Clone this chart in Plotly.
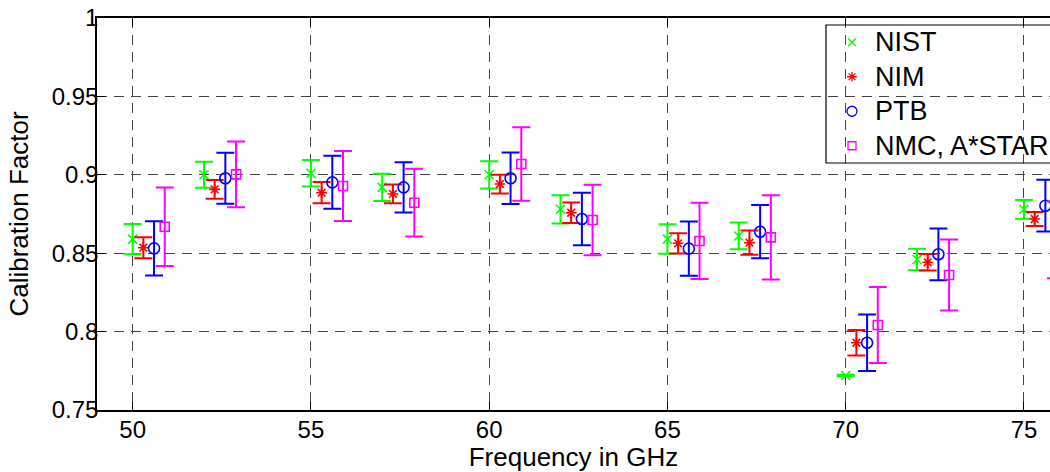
import plotly.graph_objects as go

freqs = [50, 52, 55, 57, 60, 62, 65, 67, 70, 72, 75]

nist_vals = [0.859, 0.900, 0.901, 0.892, 0.900, 0.878, 0.859, 0.861, 0.772, 0.846, 0.878]
nist_err = [0.0097, 0.0083, 0.0084, 0.0087, 0.0087, 0.009, 0.0094, 0.0085, 0.0005, 0.0069, 0.006]
nim_vals = [0.8535, 0.8907, 0.8886, 0.8878, 0.8941, 0.8758, 0.8563, 0.8567, 0.7929, 0.8442, 0.8718]
nim_err = [0.0067, 0.006, 0.0068, 0.006, 0.006, 0.0065, 0.0065, 0.0077, 0.0081, 0.0053, 0.0045]
ptb_vals = [0.8531, 0.8978, 0.8952, 0.8920, 0.8978, 0.8718, 0.8529, 0.8637, 0.7929, 0.8493, 0.8803]
ptb_err = [0.0173, 0.0163, 0.0169, 0.016, 0.0165, 0.0168, 0.0173, 0.017, 0.018, 0.0165, 0.0165]
nmc_vals = [0.8669, 0.9003, 0.8929, 0.8822, 0.9069, 0.8712, 0.8578, 0.8601, 0.8042, 0.8361, 0.8585]
nmc_err = [0.025, 0.021, 0.0223, 0.0216, 0.0235, 0.0225, 0.0243, 0.0268, 0.0243, 0.0226, 0.0245]

series_names = ["NIST", "NIM", "PTB", "NMC, A*STAR"]
x_ticks = [50, 55, 60, 65, 70, 75]
y_ticks = [0.75, 0.8, 0.85, 0.9, 0.95, 1.0]
y_tick_text = ["0.75", "0.8", "0.85", "0.9", "0.95", "1"]

# display dodge per lab (GHz)
dodge = [0.0, 0.3, 0.6, 0.9]
colors = ["#00ff00", "#ff0000", "#0000ff", "#ff00ff"]
symbols = ["x-thin-open", "asterisk-open", "circle-open", "square-open"]
sizes = [9, 9, 11, 9]

vals = [nist_vals, nim_vals, ptb_vals, nmc_vals]
errs = [nist_err, nim_err, ptb_err, nmc_err]

FONT = "Liberation Sans, Arial, Helvetica, sans-serif"
GRID = "#444444"

# plot area in figure pixels
W, H = 1050, 472
PL, PT, PB = 97, 18, 410

def px_to_paper_x(px):
    return (px - PL) / (W - PL)

def px_to_paper_y(py):
    return (PB - py) / (PB - PT)

# manual legend layout (pixels)
LEG_LEFT, LEG_TOP, LEG_BOTTOM = 826, 25, 163
LEG_MARK_X, LEG_TEXT_X = 852, 873
leg_row_step = (LEG_BOTTOM - LEG_TOP) / 4
leg_rows = [LEG_TOP + leg_row_step * (i + 0.5) for i in range(4)]

fig = go.Figure()
for i in range(4):
    fig.add_trace(go.Scatter(
        x=[f + dodge[i] for f in freqs],
        y=vals[i],
        mode="markers",
        name=series_names[i],
        marker=dict(symbol=symbols[i], size=sizes[i], color=colors[i],
                    line=dict(color=colors[i], width=1.6)),
        error_y=dict(type="data", array=errs[i], visible=True,
                     color=colors[i], thickness=2, width=9),
        cliponaxis=True,
        showlegend=False,
    ))

# legend box
fig.add_shape(type="rect", xref="paper", yref="paper",
              x0=px_to_paper_x(LEG_LEFT), x1=px_to_paper_x(W + 20),
              y0=px_to_paper_y(LEG_BOTTOM), y1=px_to_paper_y(LEG_TOP),
              line=dict(color="black", width=1.2), fillcolor="white",
              layer="between")

# legend symbols on a pixel-coordinate overlay axis
for i in range(4):
    fig.add_trace(go.Scatter(
        x=[LEG_MARK_X], y=[leg_rows[i]], xaxis="x2", yaxis="y2",
        mode="markers", showlegend=False, hoverinfo="skip",
        marker=dict(symbol=symbols[i], size=sizes[i] - 1, color=colors[i],
                    line=dict(color=colors[i], width=1.3)),
    ))
    fig.add_annotation(
        xref="paper", yref="paper",
        x=px_to_paper_x(LEG_TEXT_X), y=px_to_paper_y(leg_rows[i]),
        xanchor="left", yanchor="middle", showarrow=False,
        text=series_names[i],
        font=dict(family=FONT, size=27, color="black"),
    )

fig.update_layout(
    width=W, height=H,
    margin=dict(l=PL, r=0, t=PT, b=H - PB, autoexpand=False),
    paper_bgcolor="white", plot_bgcolor="white",
    font=dict(family=FONT, size=24, color="black"),
    showlegend=False,
    xaxis=dict(
        range=[49, 75.73],
        tickvals=x_ticks,
        ticktext=[str(t) for t in x_ticks],
        showgrid=True, gridcolor=GRID, griddash="10px,7px", gridwidth=1,
        showline=True, linecolor="black", linewidth=1.5, mirror="ticks",
        ticks="inside", ticklen=8, tickcolor="black",
        zeroline=False, automargin=False,
        ticklabelstandoff=-3,
        title=dict(text="Frequency in GHz", font=dict(size=26), standoff=0),
        tickfont=dict(size=24),
    ),
    yaxis=dict(
        range=[0.75, 1.0],
        tickvals=y_ticks,
        ticktext=y_tick_text,
        showgrid=True, gridcolor=GRID, griddash="10px,7px", gridwidth=1,
        showline=True, linecolor="black", linewidth=1.5, mirror=False,
        ticks="inside", ticklen=8, tickcolor="black",
        zeroline=False, automargin=False,
        ticklabelstandoff=-8,
        title=dict(text="Calibration Factor", font=dict(size=26), standoff=16),
        tickfont=dict(size=24),
    ),
    xaxis2=dict(overlaying="x", range=[PL, W], visible=False, fixedrange=True),
    yaxis2=dict(overlaying="y", range=[PB, PT], visible=False, fixedrange=True),
)

fig.write_html("out.html", config={"displayModeBar": False},
               post_script="document.body.style.margin='0';")
